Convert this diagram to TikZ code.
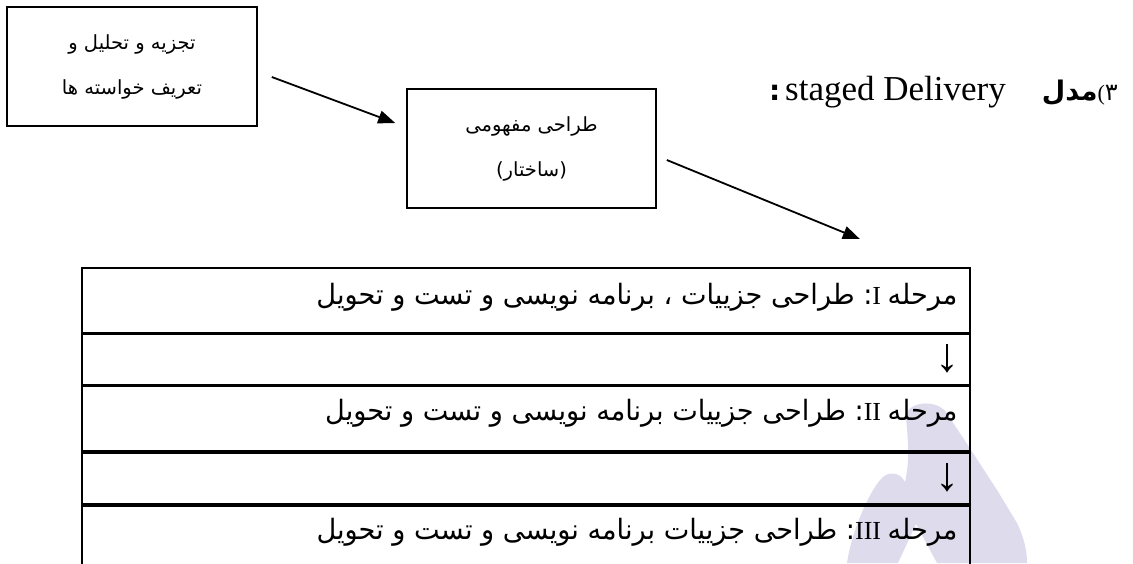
\documentclass[tikz,border=0pt]{standalone}
\usepackage{fontspec}
\setmainfont{Liberation Serif}
\newfontfamily\fa[Script=Arabic]{DejaVu Sans}
\newfontfamily\farow[Script=Arabic,FakeStretch=0.97]{DejaVu Sans}
\TeXXeTstate=1
\usetikzlibrary{arrows.meta}
\definecolor{wmlav}{RGB}{222,219,237}
\newcommand{\rowfa}{\farow\fontsize{28}{32}\selectfont}

\begin{document}
\begin{tikzpicture}[x=1pt,y=1pt,
  box/.style={draw, line width=1.6pt, inner sep=0pt, align=center,
    font=\fa\fontsize{19.5}{45}\selectfont},
  row/.style={draw, line width=1.7pt, minimum width=888pt, inner sep=0pt,
    anchor=north west},
  flow/.style={line width=1.8pt, -{Triangle[length=17pt,width=13pt]}},
  rowtxt/.style={inner sep=0pt, anchor=base east, font=\fontsize{26}{30}\selectfont},
  down/.style={inner sep=0pt, anchor=center, font=\fontsize{48}{52}\selectfont}
]
\useasboundingbox (0,0) rectangle (1133,-563);

% watermark fragment behind the table
\fill[wmlav] (906,-418) .. controls (905,-402) and (935,-398) .. (946,-412)
  -- (973,-453) -- (997,-490) -- (1017,-523)
  .. controls (1025,-540) and (1027,-552) .. (1027,-563)
  -- (937,-563) -- (916,-524) -- (898,-563) -- (847,-563)
  .. controls (852,-530) and (868,-495) .. (880,-480)
  .. controls (888,-470) and (900,-472) .. (905,-482)
  .. controls (910,-460) and (908,-440) .. (906,-418) -- cycle;

% top boxes
\node[box, minimum width=250pt, minimum height=119pt] (b1) at (132,-66.5)
  {\beginR تجزیه و تحلیل و\endR\\\beginR تعریف خواسته ها\endR};
\node[box, minimum width=249pt, minimum height=119pt] (b2) at (531.5,-148.5)
  {\beginR طراحی مفهومی\endR\\\beginR(ساختار)\endR};

% heading
\node[inner sep=0pt, anchor=base east, font=\fontsize{35}{40}\selectfont] (title) at (1118,-100)
  {{\fa\bfseries\fontsize{28}{30}\selectfont :}\hspace{5pt}staged Delivery\hspace{36pt}{\fa\bfseries\fontsize{27}{30}\selectfont\beginR مدل\endR}{\fontsize{22}{26}\selectfont(}{\fa\fontsize{24}{28}\selectfont\beginR ۳\endR}};

% stages table
\node[row, minimum height=65pt] (r1) at (81,-267) {};
\node[row, minimum height=50pt] (r2) at (r1.south west) {};
\node[row, minimum height=65pt] (r3) at (r2.south west) {};
\node[row, minimum height=51pt] (r4) at (r3.south west) {};
\node[row, minimum height=64pt] (r5) at (r4.south west) {};

\node[rowtxt] (t1) at ([xshift=-13pt,yshift=-37pt]r1.north east)
  {\beginR{\rowfa مرحله} \beginL I\endL{\rowfa: طراحی جزییات ، برنامه نویسی و تست و تحویل}\endR};
\node[down] (d1) at ([xshift=-23pt,yshift=1pt]r2.east) {↓};
\node[rowtxt] (t3) at ([xshift=-13pt,yshift=-35.5pt]r3.north east)
  {\beginR{\rowfa مرحله} \beginL II\endL{\rowfa: طراحی جزییات برنامه نویسی و تست و تحویل}\endR};
\node[down] (d2) at ([xshift=-23pt,yshift=1pt]r4.east) {↓};
\node[rowtxt] (t5) at ([xshift=-13pt,yshift=-35pt]r5.north east)
  {\beginR{\rowfa مرحله} \beginL III\endL{\rowfa: طراحی جزییات برنامه نویسی و تست و تحویل}\endR};

% connectors
\draw[flow] ([shift={(14pt,-10.5pt)}]b1.east) -- ([shift={(-11pt,25.5pt)}]b2.west);
\draw[flow] ([shift={(10pt,-11.5pt)}]b2.east) -- ([shift={(334pt,28pt)}]r1.north);
\end{tikzpicture}
\end{document}
